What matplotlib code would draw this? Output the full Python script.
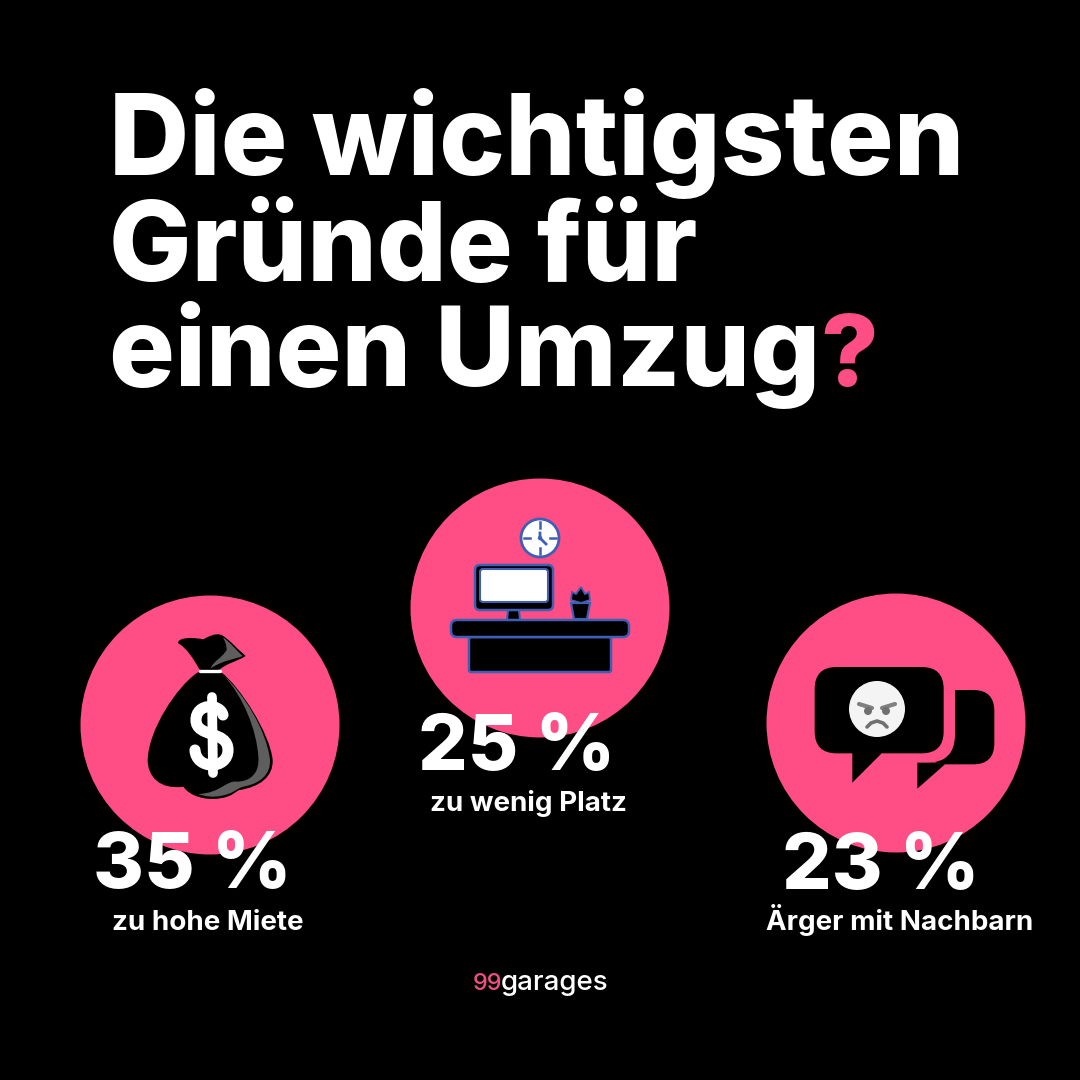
import matplotlib
matplotlib.use("Agg")
import matplotlib.pyplot as plt
from matplotlib.patches import Circle, FancyBboxPatch, PathPatch, Polygon
from matplotlib.path import Path

# ---- data ----
title_lines = ["Die wichtigsten", "Gründe für", "einen Umzug"]
title_mark = "?"
percent_values = [35, 25, 23]
reason_labels = ["zu hohe Miete", "zu wenig Platz", "Ärger mit Nachbarn"]
brand_a = "99"
brand_b = "garages"

PINK = "#FF4D85"
BLUE = "#3F5FB5"
GREY = "#5E5E5E"
FONT = "Inter"

fig = plt.figure(figsize=(10.8, 10.8), dpi=100, facecolor="black")
ax = fig.add_axes([0, 0, 1, 1])
ax.set_xlim(0, 1080)
ax.set_ylim(1080, 0)
ax.set_aspect("equal")
ax.axis("off")


def bez(pts, color, ox, oy, z=3):
    """pts: start, then triples of cubic control points, in 3x crop coordinates"""
    verts = [(ox + x / 3, oy + y / 3) for x, y in pts]
    codes = [Path.MOVETO] + [Path.CURVE4] * (len(verts) - 1)
    ax.add_patch(PathPatch(Path(verts, codes), fc=color, ec="none", zorder=z))


def rbox(x0, y0, x1, y1, r, fc, ec="none", lw=0, z=3):
    ax.add_patch(FancyBboxPatch((x0 + r, y0 + r), x1 - x0 - 2 * r, y1 - y0 - 2 * r,
                                boxstyle=f"round,pad={r},rounding_size={r}",
                                fc=fc, ec=ec, lw=lw, zorder=z))


# ---- circles ----
for cx, cy, r in [(210, 725, 129.5), (540, 608, 129.5), (896, 723, 129.5)]:
    ax.add_patch(Circle((cx, cy), r, fc=PINK, ec="none", zorder=1))

# ---- money bag ----
ox, oy = 80, 590
bez([(352, 248), (290, 290), (205, 420), (203, 510), (203, 560), (240, 600), (310, 590),
     (330, 620), (380, 632), (420, 625), (460, 620), (470, 600), (480, 600),
     (540, 590), (580, 560), (578, 510), (570, 430), (480, 290), (425, 248),
     (400, 240), (375, 240), (352, 248)], "black", ox, oy)
bez([(430, 255), (490, 310), (560, 420), (570, 510), (572, 550), (545, 580), (490, 590),
     (470, 595), (460, 612), (420, 618), (400, 622), (375, 620), (355, 612),
     (420, 610), (440, 570), (470, 575), (510, 575), (540, 550), (535, 500),
     (530, 420), (490, 320), (430, 255)], GREY, ox, oy, z=4)
bez([(358, 238), (340, 205), (320, 175), (295, 160), (290, 148), (320, 138), (370, 148),
     (385, 140), (405, 128), (425, 135), (450, 150), (470, 175), (497, 198),
     (470, 215), (440, 220), (420, 238), (400, 244), (375, 244), (358, 238)],
    "black", ox, oy)
bez([(428, 142), (450, 155), (468, 180), (488, 198), (465, 208), (430, 210), (392, 235),
     (398, 215), (425, 205), (440, 180), (440, 165), (435, 152), (428, 142)], GREY, ox, oy, z=4)
ax.plot([200, 220], [670.5, 670.5], color="white", lw=2.4, zorder=5, solid_capstyle="round")
# dollar sign: vertical bar and S stroke
ax.plot([212, 213], [697, 773], color="white", lw=7, zorder=6, solid_capstyle="round")
s_pts = [(223, 715), (220, 703), (196, 703), (196, 720), (196, 738), (228, 730), (228, 750),
         (228, 770), (196, 770), (195, 750)]
s_path = Path(s_pts, [Path.MOVETO] + [Path.CURVE4] * 9)
ax.add_patch(PathPatch(s_path, fc="none", ec="white", lw=8, capstyle="round", zorder=6))

# ---- desk ----
ax.add_patch(Circle((540, 538), 19, fc="white", ec=BLUE, lw=2, zorder=3))
for a, b, c, d in [(540, 522, 540, 528), (540, 548, 540, 554), (524, 538, 530, 538), (550, 538, 556, 538)]:
    ax.plot([a, c], [b, d], color=BLUE, lw=1.8, zorder=4)
ax.plot([546, 540, 540], [544, 538, 533], color=BLUE, lw=2, zorder=4)
ax.add_patch(Circle((540, 538), 2.2, fc=BLUE, ec="none", zorder=5))
rbox(475, 565, 553, 610, 5, "black", BLUE, 1.8)
rbox(480, 569, 548, 602, 3, "white", BLUE, 1.5, z=4)
ax.add_patch(Polygon([(508, 610), (519, 610), (520, 620), (507, 620)], fc="black", ec=BLUE, lw=1.5, zorder=2))
ax.add_patch(Polygon([(571, 603), (590, 603), (587, 619), (574, 619)], fc="black", ec=BLUE, lw=1.6, zorder=3))
ax.add_patch(Polygon([(571, 600), (572, 592), (576, 594), (581, 587), (585, 594), (589, 592), (590, 600), (581, 603)],
                     fc="black", ec=BLUE, lw=1.3, zorder=3))
rbox(451, 620, 629, 637, 6, "black", BLUE, 1.8)
rbox(469, 637, 611, 672, 2, "black", BLUE, 1.8, z=2)

# ---- speech bubbles ----
ox, oy = 765, 590
rbox(ox + 570 / 3 - 30, oy + 300 / 3, ox + 688 / 3, oy + 523 / 3, 21, "black", z=2)
ax.add_patch(Polygon([(ox + 457 / 3, oy + 510 / 3), (ox + 457 / 3, oy + 596 / 3), (ox + 540 / 3, oy + 523 / 3)],
                     fc="black", ec="none", zorder=2))
rbox(ox + 137 / 3, oy + 218 / 3, ox + 570 / 3, oy + 518 / 3, 28, PINK, z=3)
rbox(ox + 149 / 3, oy + 231 / 3, ox + 536 / 3, oy + 490 / 3, 22, "black", z=4)
ax.add_patch(Polygon([(ox + 262 / 3, oy + 485 / 3), (ox + 262 / 3, oy + 578 / 3), (ox + 350 / 3, oy + 490 / 3)],
                     fc="black", ec="none", zorder=4))
fx, fy = ox + 336 / 3, oy + 357 / 3
ax.add_patch(Circle((fx, fy), 28, fc="#F4F4F4", ec="none", zorder=5))
ax.plot([fx - 18, fx - 5], [fy - 5, fy - 1], color="#808080", lw=3, zorder=6, solid_capstyle="round")
ax.plot([fx + 18, fx + 5], [fy - 5, fy - 1], color="#808080", lw=3, zorder=6, solid_capstyle="round")
ax.add_patch(Circle((fx - 9, fy + 2), 4, fc="#707070", ec="none", zorder=6))
ax.add_patch(Circle((fx + 9, fy + 2), 4, fc="#707070", ec="none", zorder=6))
ax.plot([fx - 10, fx - 6, fx, fx + 6, fx + 10], [fy + 18, fy + 14, fy + 12, fy + 14, fy + 18],
        color="#707070", lw=2.6, zorder=6, solid_capstyle="round")

# ---- title ----
for line, base, size in zip(title_lines, [175, 281, 386], [80, 79, 79]):
    ax.text(109, base, line, color="white", family=FONT, weight="heavy", fontsize=size,
            ha="left", va="baseline", zorder=10)
ax.text(820, 386, title_mark, color=PINK, family=FONT, weight="heavy", fontsize=72,
        ha="left", va="baseline", zorder=10)

# ---- percentages and labels ----
pct_pos = [(93, 888), (418, 770), (782, 889)]
lab_pos = [(112, 930), (430, 811), (766, 930)]
for v, (x, y) in zip(percent_values, pct_pos):
    ax.text(x, y, f"{v} %", color="white", family=FONT, weight="heavy", fontsize=56,
            ha="left", va="baseline", zorder=10)
for s, (x, y) in zip(reason_labels, lab_pos):
    ax.text(x, y, s, color="white", family=FONT, weight="bold", fontsize=20,
            ha="left", va="baseline", zorder=10)

# ---- brand ----
ax.text(473, 990, brand_a, color="#EE4F85", family=FONT, weight="medium", fontsize=17,
        ha="left", va="baseline", zorder=10)
ax.text(501, 990, brand_b, color="white", family=FONT, weight="medium", fontsize=20,
        ha="left", va="baseline", zorder=10)

fig.savefig("out.png", dpi=100, facecolor="black")
